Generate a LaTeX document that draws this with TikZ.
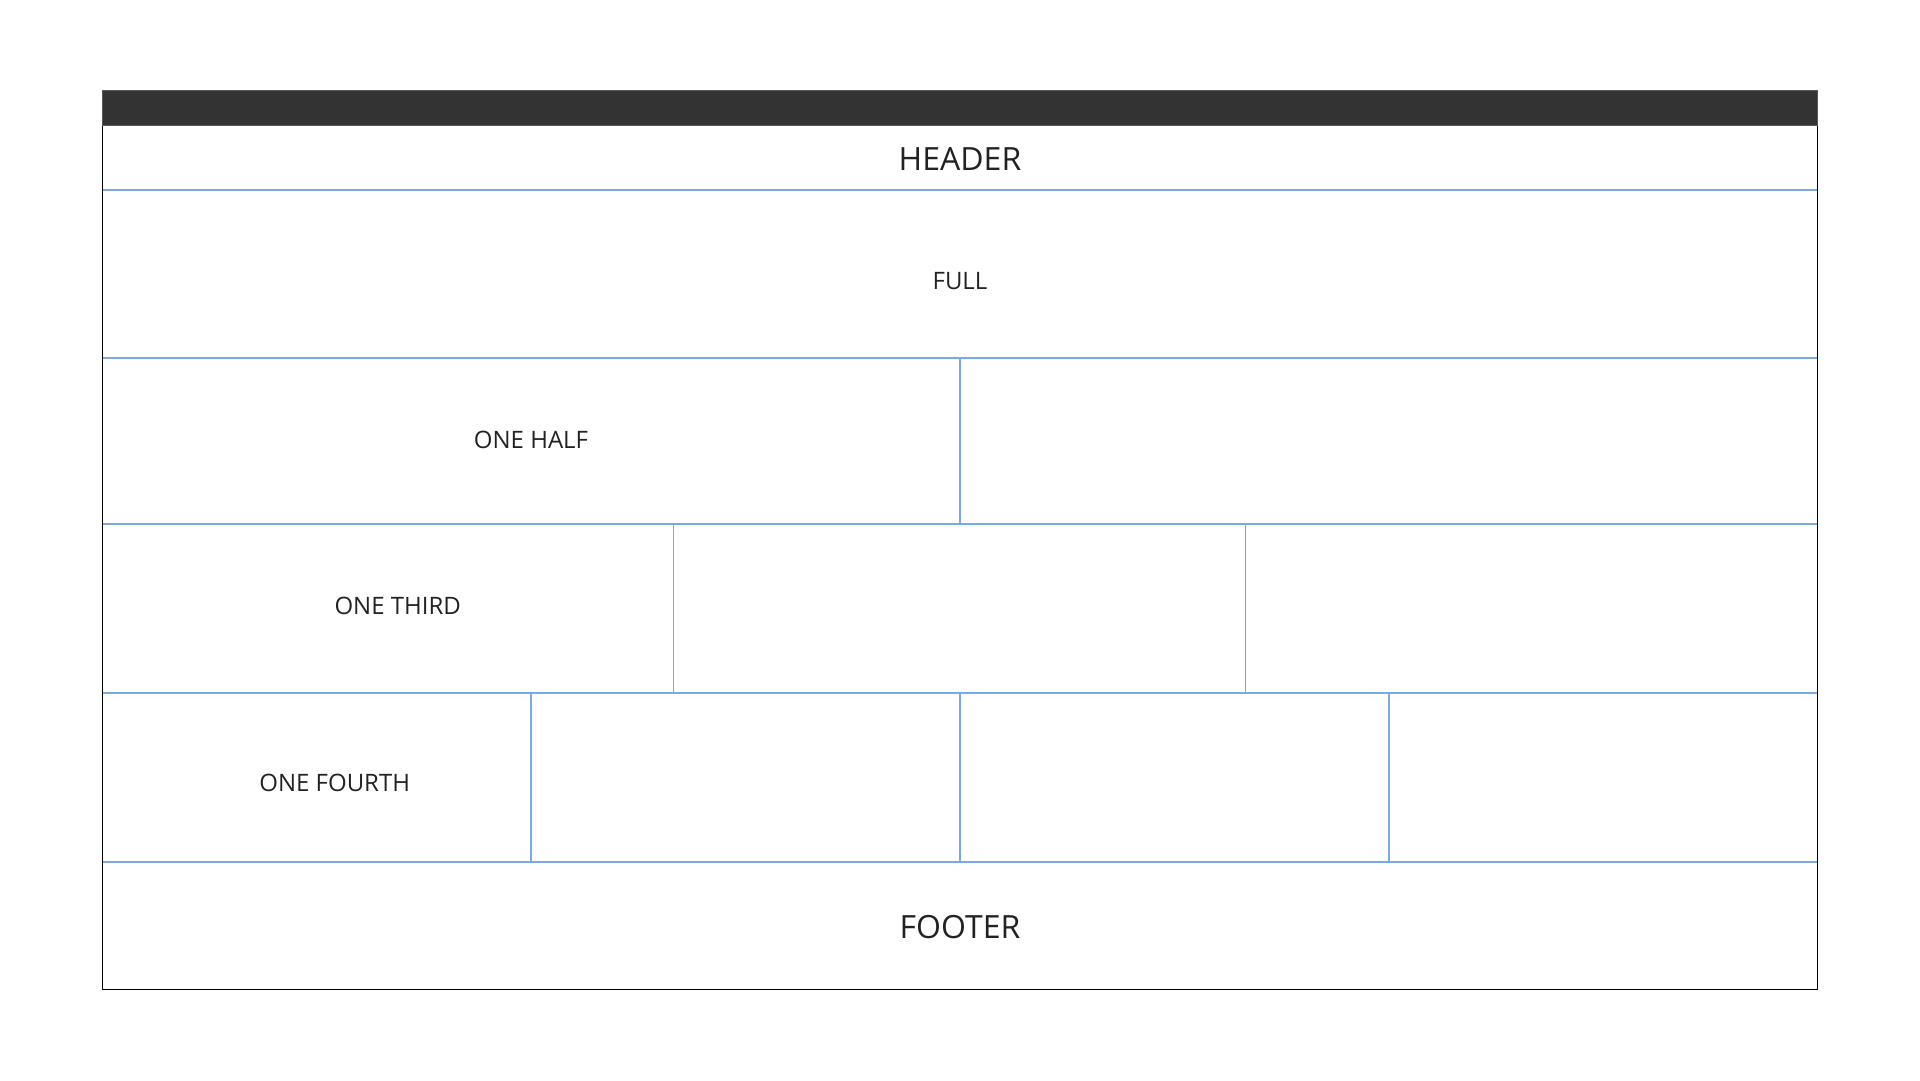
\documentclass[tikz,border=0pt]{standalone}
\usepackage{fontspec}
\setmainfont{Open Sans}
\definecolor{gridblue}{RGB}{122,170,230}
\definecolor{bardark}{RGB}{51,51,51}
\definecolor{barrim}{RGB}{90,90,90}
\definecolor{inktext}{RGB}{34,34,34}
\tikzset{
  cellline/.style={draw=gridblue, line width=1.5pt},
  celltext/.style={text=inktext, inner sep=0pt, font=\fontsize{24}{28}\selectfont},
  bigtext/.style={text=inktext, inner sep=0pt, font=\fontsize{32}{38}\selectfont}
}
\begin{document}
\begin{tikzpicture}[x=1pt,y=-1pt]
  % Page size of the picture
  \useasboundingbox (0,0) rectangle (1920,1080);
  % Outer frame and top bar
  \draw[black, line width=1pt] (102.5,125) rectangle (1817,989);
  \draw[fill=bardark, draw=barrim, line width=1pt] (102.5,90.5) rectangle (1817,125);

  % Row dividers
  \foreach \y in {190,358,524,693,862} {
    \draw[cellline] (103,\y) -- (1816.5,\y);
  }
  % Column dividers of each row
  \draw[cellline] (960,358) -- (960,524);
  \foreach \x in {673.7,1245.3} {
    \draw[cellline] (\x,524) -- (\x,693);
  }
  \foreach \x in {531,960,1389} {
    \draw[cellline] (\x,693) -- (\x,862);
  }

  % Labels
  \node[bigtext] (header) at (960,159) {HEADER};
  \node[celltext] (full) at (960,281) {FULL};
  \node[celltext] (half) at (531,440) {ONE HALF};
  \node[celltext] (third) at (397.7,605.7) {ONE THIRD};
  \node[celltext] (fourth) at (334.7,782.5) {ONE FOURTH};
  \node[bigtext] (footer) at (960,927) {FOOTER};
\end{tikzpicture}
\end{document}
